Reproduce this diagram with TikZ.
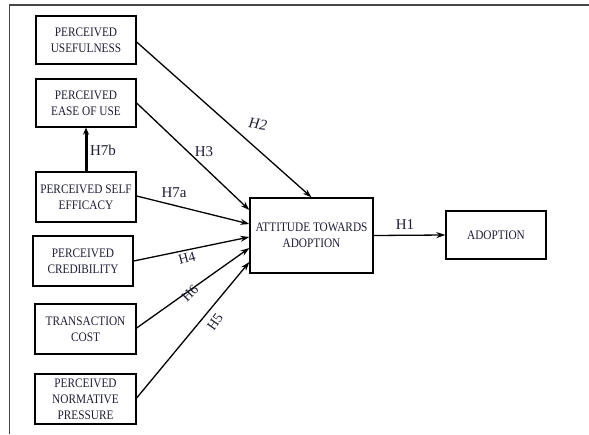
\documentclass[tikz,border=0pt]{standalone}
\usepackage{fontspec}
\setmainfont{Liberation Serif}
\newfontfamily\boxfont[FakeStretch=0.87]{Liberation Serif}
\usetikzlibrary{arrows.meta,calc}
\definecolor{txt}{RGB}{30,30,55}
\definecolor{frame}{RGB}{70,70,70}
\tikzset{
  box/.style={draw=black, line width=1.3pt, minimum width=100pt, minimum height=48pt,
    inner sep=1pt, align=center, text=txt, font=\boxfont\fontsize{13}{16}\selectfont},
  link/.style={draw=black, line width=1.3pt, -{Stealth[length=9pt,width=6pt]}},
  hlab/.style={text=txt, font=\fontsize{15}{17}\selectfont, inner sep=0pt},
  rlab/.style={hlab, font=\fontsize{14}{15}\selectfont}
}
\begin{document}
\begin{tikzpicture}[x=1pt,y=-1pt]
\useasboundingbox (0,0) rectangle (589,434);
\draw[frame, line width=1.6pt] (9.5,434) -- (9.5,5) -- (589,5);

\node[box] (pu) at (86,40) {PERCEIVED\\USEFULNESS};
\node[box] (peou) at (86,103) {PERCEIVED\\EASE OF USE};
\node[box, minimum height=50pt] (pse) at (86,197) {PERCEIVED SELF\\EFFICACY};
\node[box, minimum height=50pt] (pc) at (83,261) {PERCEIVED\\CREDIBILITY};
\node[box, minimum height=50pt, minimum width=101pt] (tc) at (85.5,329) {TRANSACTION\\COST};
\node[box, minimum height=50pt, minimum width=101pt] (pnp) at (85.5,399) {PERCEIVED\\NORMATIVE\\PRESSURE};
\node[box, minimum width=123pt, minimum height=75pt] (ata) at (311.5,235.5) {ATTITUDE TOWARDS\\ADOPTION};
\node[box] (ado) at (496,235) {ADOPTION};

\coordinate (t2) at (ata.north);
\coordinate (t3) at ($(ata.west)+(0,-25.5)$);
\coordinate (t7) at ($(ata.west)+(0,-11.5)$);
\coordinate (t4) at ($(ata.west)+(0,1.5)$);
\coordinate (t6) at ($(ata.west)+(0,12.5)$);
\coordinate (t5) at ($(ata.west)+(0,26.5)$);

\draw[link] ($(pu.east)+(0,2)$) -- (t2);
\draw[link] (peou.east) -- (t3);
\draw[link] ($(pse.east)+(0,-1)$) -- (t7);
\draw[link] (pc.east) -- (t4);
\draw[link] ($(tc.east)+(0,-1)$) -- (t6);
\draw[link] ($(pnp.east)+(0,-1)$) -- (t5);
\draw[link] (ata.east) -- (ado.west);
\draw[draw=black, line width=3pt, -{Stealth[length=7pt,width=6pt]}] (pse.north) -- (peou.south);

\node[hlab, font=\itshape\fontsize{15}{17}\selectfont, rotate=-8] (h2) at (258,124) {H2};
\node[hlab] (h3) at (204,152) {H3};
\node[hlab] (h7b) at (103,150) {H7b};
\node[hlab] (h7a) at (174,193) {H7a};
\node[rlab, rotate=15] (h4) at (187,258) {H4};
\node[rlab, rotate=45] (h6) at (190,293) {H6};
\node[rlab, rotate=55] (h5) at (215,322) {H5};
\node[hlab] (h1) at (405,225) {H1};
\end{tikzpicture}
\end{document}
